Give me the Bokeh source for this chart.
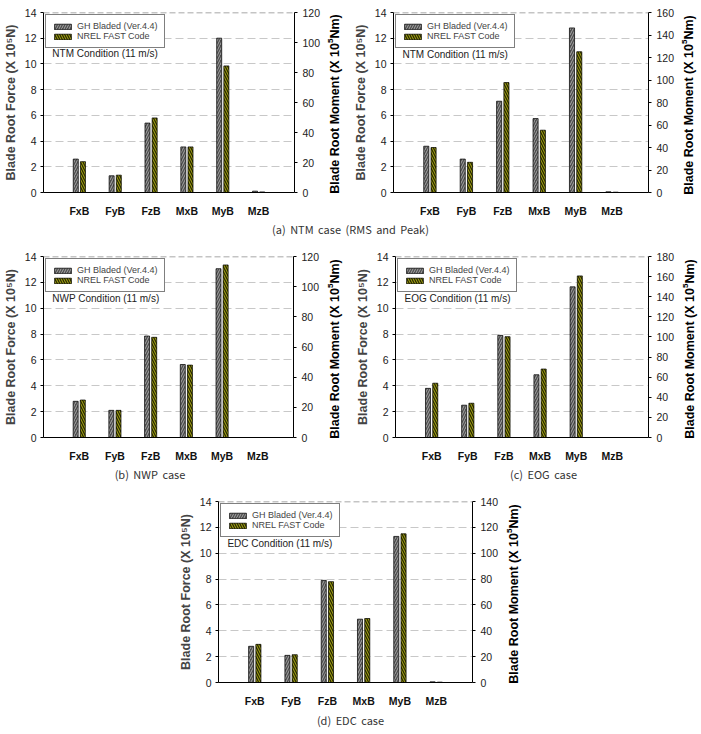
from bokeh.plotting import figure
from bokeh.models import (Range1d, LinearAxis, FixedTicker, Legend, LegendItem, Label,
                          Span, Div, Spacer)
from bokeh.layouts import column, row
from bokeh.embed import file_html
from bokeh.resources import INLINE

categories = ["FxB", "FyB", "FzB", "MxB", "MyB", "MzB"]
force_cats = ["FxB", "FyB", "FzB"]
moment_cats = ["MxB", "MyB", "MzB"]

# (a) NTM RMS
ntm_rms_gh_force = [2.6, 1.3, 5.4]
ntm_rms_fast_force = [2.4, 1.35, 5.8]
ntm_rms_gh_moment = [30.4, 102.9, 0.9]
ntm_rms_fast_moment = [30.4, 84.4, 0.4]
ntm_rms_moment_max = 120

# (a) NTM Peak
ntm_peak_gh_force = [3.6, 2.6, 7.1]
ntm_peak_fast_force = [3.5, 2.35, 8.55]
ntm_peak_gh_moment = [65.7, 146.3, 0.6]
ntm_peak_fast_moment = [55.4, 125.1, 0.3]
ntm_peak_moment_max = 160

# (b) NWP
nwp_gh_force = [2.8, 2.1, 7.85]
nwp_fast_force = [2.9, 2.1, 7.75]
nwp_gh_moment = [48.4, 111.9, 0.0]
nwp_fast_moment = [48.0, 114.4, 0.0]
nwp_moment_max = 120

# (c) EOG
eog_gh_force = [3.8, 2.5, 7.9]
eog_fast_force = [4.2, 2.65, 7.8]
eog_gh_moment = [62.4, 149.8, 0.0]
eog_fast_moment = [68.1, 160.7, 0.0]
eog_moment_max = 180

# (d) EDC
edc_gh_force = [2.8, 2.1, 7.9]
edc_fast_force = [2.95, 2.15, 7.8]
edc_gh_moment = [49.0, 113.0, 0.5]
edc_fast_moment = [49.5, 115.0, 0.3]
edc_moment_max = 140

series_labels = ["GH Bladed (Ver.4.4)", "NREL FAST Code"]
force_axis_label = "Blade Root Force (X 10\u2075N)"
moment_axis_html = "Blade Root Moment (X 10<sup style='font-size:8px'>5</sup>Nm)"

FONT = "Liberation Sans"
GH_FILL, GH_HATCH = "#4e4e4e", "#a6a6a6"
FAST_FILL, FAST_HATCH = "#9c9c14", "#262600"


def panel(cond_text, gh_f, fa_f, gh_m, fa_m, mmax, width, height, bl, br, bt, bb):
    p = figure(width=width, height=height, output_backend="svg", toolbar_location=None,
               x_range=Range1d(0, 7), y_range=Range1d(0, 14),
               min_border_left=bl, min_border_right=br, min_border_top=bt,
               min_border_bottom=bb)
    p.extra_y_ranges = {"m": Range1d(0, mmax)}
    p.outline_line_color = None
    p.background_fill_color = "white"
    p.border_fill_color = "white"
    frame_w = width - bl - br
    frame_h = height - bt - bb

    pos = {c: i + 1 for i, c in enumerate(categories)}
    fx = [pos[c] for c in force_cats]
    mx = [pos[c] for c in moment_cats]
    off, w = 0.1, 0.14

    style_gh = dict(width=w, fill_color=GH_FILL, line_color="black", line_width=0.7,
                    hatch_pattern="/", hatch_color=GH_HATCH, hatch_scale=5,
                    hatch_weight=1.0)
    style_fa = dict(width=w, fill_color=FAST_FILL, line_color="black", line_width=0.7,
                    hatch_pattern="\\", hatch_color=FAST_HATCH, hatch_scale=5,
                    hatch_weight=1.2)

    r_gh = p.vbar(x=[x - off for x in fx], top=gh_f, **style_gh)
    r_fa = p.vbar(x=[x + off for x in fx], top=fa_f, **style_fa)
    p.vbar(x=[x - off for x in mx], top=gh_m, y_range_name="m", **style_gh)
    p.vbar(x=[x + off for x in mx], top=fa_m, y_range_name="m", **style_fa)

    # grid
    p.xgrid.grid_line_color = None
    p.ygrid.grid_line_color = "#c8c8c8"
    p.ygrid.grid_line_dash = "8 4"
    p.ygrid.grid_line_width = 1
    p.ygrid.ticker = FixedTicker(ticks=[2, 4, 6, 8, 10, 12])
    p.add_layout(Span(location=14, dimension="width", line_color="#8a8a8a",
                      line_dash="6 3", line_width=1.5))

    # x axis
    xa = p.xaxis[0]
    xa.ticker = FixedTicker(ticks=list(range(1, 7)))
    xa.major_label_overrides = {i + 1: c for i, c in enumerate(categories)}
    xa.major_tick_line_color = None
    xa.minor_tick_line_color = None
    xa.axis_line_color = "black"
    xa.major_label_text_font = FONT
    xa.major_label_text_font_style = "bold"
    xa.major_label_text_font_size = "10.5px"
    xa.major_label_text_color = "#111111"
    xa.major_label_standoff = 6

    # left axis
    ya = p.yaxis[0]
    ya.ticker = FixedTicker(ticks=list(range(0, 15, 2)))
    ya.minor_tick_line_color = None
    ya.major_tick_out = 3
    ya.major_tick_in = 0
    ya.axis_label = force_axis_label
    ya.axis_label_text_font = FONT
    ya.axis_label_text_font_style = "bold"
    ya.axis_label_text_font_size = "12.5px"
    ya.axis_label_standoff = 4
    ya.major_label_standoff = 4
    ya.major_label_text_font = FONT
    ya.major_label_text_font_size = "10.5px"
    ya.major_label_text_color = "#222222"

    ra = LinearAxis(y_range_name="m")
    ra.ticker = FixedTicker(ticks=list(range(0, mmax + 1, 20)))
    ra.minor_tick_line_color = None
    ra.major_tick_out = 3
    ra.major_tick_in = 0
    ra.major_label_standoff = 5
    ra.major_label_text_font = FONT
    ra.major_label_text_font_size = "10.5px"
    ra.major_label_text_color = "#222222"
    p.add_layout(ra, "right")

    legend = Legend(items=[LegendItem(label=series_labels[0], renderers=[r_gh]),
                           LegendItem(label=series_labels[1], renderers=[r_fa])],
                    location="top_left", margin=2, padding=6,
                    spacing=0, glyph_width=21, glyph_height=7, label_height=10,
                    label_standoff=4, label_text_font=FONT,
                    label_text_font_size="9px", border_line_color="black",
                    border_line_width=1, background_fill_alpha=1)
    p.add_layout(legend)

    p.add_layout(Label(x=9 * 7 / frame_w, y=14 * (1 - 43 / frame_h), text=cond_text,
                       text_font=FONT, text_font_size="10px", text_baseline="middle",
                       text_color="#222222"))
    return p, bt + frame_h / 2


def moment_title(width, height, cx, cy):
    html = (f"<div style=\"position:absolute; left:{cx}px; top:{cy}px; "
            f"transform:translate(-50%,-50%) rotate(-90deg); white-space:nowrap; "
            f"font-family:'Liberation Sans'; font-weight:bold; font-size:12.5px; "
            f"color:black; line-height:14px;\">{moment_axis_html}</div>")
    return Div(text=html, width=width, height=height, margin=(0, 0, 0, 0),
               styles={"position": "relative", "overflow": "visible"})


def caption(text, width, height):
    return Div(text=text, width=width, height=height, margin=(0, 0, 0, 0),
               styles={"font-family": "Noto Sans CJK KR", "font-size": "11px",
                       "text-align": "center", "line-height": f"{height}px",
                       "width": f"{width}px", "color": "#333333",
                       "word-spacing": "2px"})


p1, c1 = panel("NTM Condition (11 m/s)", ntm_rms_gh_force, ntm_rms_fast_force,
               ntm_rms_gh_moment, ntm_rms_fast_moment, ntm_rms_moment_max,
               324, 219, 39, 30, 10, 22)
p2, c2 = panel("NTM Condition (11 m/s)", ntm_peak_gh_force, ntm_peak_fast_force,
               ntm_peak_gh_moment, ntm_peak_fast_moment, ntm_peak_moment_max,
               328, 219, 42, 30, 12, 22)
p3, c3 = panel("NWP Condition (11 m/s)", nwp_gh_force, nwp_fast_force,
               nwp_gh_moment, nwp_fast_moment, nwp_moment_max,
               323, 225, 38, 30, 17, 22)
p4, c4 = panel("EOG Condition (11 m/s)", eog_gh_force, eog_fast_force,
               eog_gh_moment, eog_fast_moment, eog_moment_max,
               328, 225, 45, 30, 17, 22)
p5, c5 = panel("EDC Condition (11 m/s)", edc_gh_force, edc_fast_force,
               edc_gh_moment, edc_fast_moment, edc_moment_max,
               327, 225, 41, 30, 17, 22)

t1 = moment_title(26, 219, 9, c1)
t2 = moment_title(23, 219, 9, c2)
t3 = moment_title(27, 225, 10, c3)
t4 = moment_title(23, 225, 10, c4)
t5 = moment_title(30, 225, 10, c5)

cap_a = caption("(a) NTM case (RMS and Peak)", 701, 20)
cap_b = caption("(b) NWP case", 300, 20)
cap_c = caption("(c) EOG case", 315, 20)
cap_d = caption("(d) EDC case", 701, 22)

layout = column(
    row(p1, t1, p2, t2, spacing=0),
    cap_a,
    row(p3, t3, p4, t4, spacing=0),
    row(cap_b, Spacer(width=86, height=20), cap_c, spacing=0),
    row(Spacer(width=175, height=225), p5, t5, spacing=0),
    cap_d,
    spacing=0,
)

open("out.html", "w").write(file_html(layout, INLINE))
